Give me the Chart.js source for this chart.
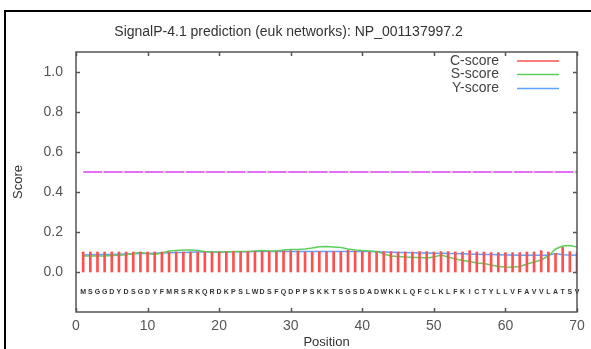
<!DOCTYPE html>
<html>
<head>
<meta charset="utf-8">
<script src="https://cdn.jsdelivr.net/npm/chart.js@4"></script>
<style>
  html, body { margin: 0; padding: 0; background: #fff; }
  #wrap { position: relative; width: 591px; height: 349px; overflow: hidden; }
  #frame { position: absolute; left: 4px; top: 10px; width: 700px; height: 500px; border-left: 2px solid #000; border-top: 2px solid #000; }
  canvas { position: absolute; left: 0; top: 0; }
</style>
</head>
<body>
<div id="wrap">
  <div id="frame"></div>
  <canvas id="chart" width="591" height="349"></canvas>
</div>
<script>
// sequence (one residue per position)
const residues = "MSGGDYDSGDYFMRSRKQRDKPSLWDSFQDPPSKKTSGSDADWKKLQFCLKLFKICTYLLVFAVVLATSV".split("");
const positions = residues.map((r, i) => i + 1);

const cScore = [
  0.100, 0.100, 0.100, 0.100, 0.100, 0.100, 0.100, 0.100, 0.100, 0.100,
  0.100, 0.100, 0.100, 0.100, 0.100, 0.100, 0.100, 0.100, 0.100, 0.100,
  0.102, 0.102, 0.102, 0.102, 0.102, 0.102, 0.102, 0.102, 0.105, 0.107,
  0.105, 0.100, 0.100, 0.102, 0.102, 0.102, 0.102, 0.108, 0.105, 0.102,
  0.100, 0.100, 0.102, 0.102, 0.100, 0.100, 0.100, 0.102, 0.102, 0.100,
  0.102, 0.102, 0.100, 0.100, 0.107, 0.100, 0.100, 0.097, 0.097, 0.097,
  0.097, 0.097, 0.100, 0.100, 0.107, 0.100, 0.093, 0.123, 0.102, 0.100
];
const sScore = [
  0.080, 0.080, 0.080, 0.080, 0.082, 0.084, 0.086, 0.092, 0.097, 0.093,
  0.088, 0.095, 0.105, 0.108, 0.110, 0.110, 0.108, 0.103, 0.100, 0.100,
  0.100, 0.102, 0.102, 0.103, 0.105, 0.107, 0.105, 0.105, 0.110, 0.112,
  0.113, 0.115, 0.120, 0.126, 0.127, 0.125, 0.122, 0.115, 0.110, 0.107,
  0.105, 0.103, 0.090, 0.080, 0.077, 0.075, 0.073, 0.073, 0.070, 0.075,
  0.085, 0.075, 0.065, 0.058, 0.052, 0.045, 0.042, 0.035, 0.028, 0.025,
  0.024, 0.028, 0.040, 0.050, 0.060, 0.080, 0.115, 0.130, 0.132, 0.125
];
const yScore = [
  0.085, 0.086, 0.087, 0.087, 0.088, 0.089, 0.090, 0.091, 0.092, 0.093,
  0.094, 0.095, 0.096, 0.097, 0.098, 0.099, 0.100, 0.100, 0.100, 0.100,
  0.100, 0.101, 0.101, 0.101, 0.102, 0.102, 0.102, 0.102, 0.103, 0.103,
  0.103, 0.103, 0.103, 0.103, 0.103, 0.103, 0.103, 0.102, 0.102, 0.102,
  0.102, 0.101, 0.100, 0.099, 0.098, 0.097, 0.096, 0.095, 0.095, 0.094,
  0.094, 0.093, 0.092, 0.091, 0.090, 0.089, 0.088, 0.087, 0.086, 0.085,
  0.085, 0.084, 0.084, 0.084, 0.084, 0.084, 0.092, 0.086, 0.085, 0.084
];
const cutoff = 0.5;
const xTicks = [0, 10, 20, 30, 40, 50, 60, 70];
const yTicks = [0.0, 0.2, 0.4, 0.6, 0.8, 1.0];
const seriesNames = ["C-score", "S-score", "Y-score"];
const seriesColors = ["#ff5050", "#5ccf5c", "#5aa5ff"];

const pts = arr => positions.map((p, i) => ({ x: p, y: arr[i] }));

// gnuplot style frame with inward ticks on all sides
const framePlugin = {
  id: "frame",
  afterDraw(chart) {
    const { ctx, chartArea: a, scales: { x, y } } = chart;
    ctx.save();
    ctx.strokeStyle = "#555";
    ctx.lineWidth = 1.5;
    ctx.strokeRect(a.left, a.top, a.right - a.left, a.bottom - a.top);
    ctx.beginPath();
    xTicks.forEach(v => {
      const px = Math.round(x.getPixelForValue(v)) + 0.5;
      ctx.moveTo(px, a.bottom); ctx.lineTo(px, a.bottom - 4);
      ctx.moveTo(px, a.top); ctx.lineTo(px, a.top + 4);
    });
    yTicks.forEach(v => {
      const py = Math.round(y.getPixelForValue(v)) + 0.5;
      ctx.moveTo(a.left, py); ctx.lineTo(a.left + 4, py);
      ctx.moveTo(a.right, py); ctx.lineTo(a.right - 4, py);
    });
    ctx.stroke();
    ctx.restore();
  }
};

// residue letters under the bars
const residuePlugin = {
  id: "residues",
  afterDatasetsDraw(chart) {
    const { ctx, scales: { x, y } } = chart;
    ctx.save();
    ctx.font = "bold 7px 'Liberation Sans'";
    ctx.fillStyle = "#333";
    ctx.textAlign = "center";
    ctx.textBaseline = "middle";
    residues.forEach((r, i) => {
      ctx.fillText(r, x.getPixelForValue(positions[i]), y.getPixelForValue(-0.1));
    });
    ctx.restore();
  }
};

// legend: text then line sample, top right
const legendPlugin = {
  id: "gpLegend",
  afterDraw(chart) {
    const { ctx } = chart;
    ctx.save();
    ctx.font = "14px 'Liberation Sans'";
    ctx.fillStyle = "#444";
    ctx.textAlign = "right";
    ctx.textBaseline = "middle";
    const rows = [61, 74.5, 88.5];
    seriesNames.forEach((n, i) => {
      ctx.fillText(n, 499, rows[i]);
      ctx.strokeStyle = seriesColors[i];
      ctx.lineWidth = 1.5;
      ctx.beginPath();
      ctx.moveTo(517, rows[i]); ctx.lineTo(559, rows[i]);
      ctx.stroke();
    });
    ctx.restore();
  }
};

new Chart(document.getElementById("chart"), {
  data: {
    datasets: [
      {
        type: "line", label: "cutoff",
        data: [{ x: positions[0], y: cutoff }, { x: positions[positions.length - 1], y: cutoff }],
        borderColor: "#e070f0", borderWidth: 2, borderDash: [19, 1.5], pointRadius: 0
      },
      {
        type: "bar", label: seriesNames[0], data: pts(cScore),
        backgroundColor: seriesColors[0], barThickness: 2, grouped: false
      },
      {
        type: "line", label: seriesNames[1], data: pts(sScore),
        borderColor: seriesColors[1], borderWidth: 1.5, pointRadius: 0, tension: 0
      },
      {
        type: "line", label: seriesNames[2], data: pts(yScore),
        borderColor: seriesColors[2], borderWidth: 1.5, pointRadius: 0, tension: 0
      }
    ]
  },
  options: {
    responsive: false,
    animation: false,
    devicePixelRatio: 1,
    layout: { padding: { left: 0, right: 14, top: 0, bottom: 0 } },
    plugins: {
      legend: { display: false },
      tooltip: { enabled: false },
      title: {
        display: true,
        text: "SignalP-4.1 prediction (euk networks): NP_001137997.2",
        color: "#333",
        font: { family: "'Liberation Sans'", size: 14, weight: "normal" },
        padding: { top: 24, bottom: 11.2 }
      }
    },
    scales: {
      x: {
        type: "linear", min: 0, max: 70, offset: false,
        grid: { display: false, drawTicks: false, offset: false },
        border: { display: false },
        afterBuildTicks: s => { s.ticks = xTicks.map(v => ({ value: v })); },
        afterFit: s => { s.height = 37; },
        ticks: {
          padding: 6, color: "#555", maxRotation: 0,
          font: { family: "'Liberation Sans'", size: 14 },
          callback: v => String(v)
        },
        title: {
          display: true, text: "Position", color: "#333",
          font: { family: "'Liberation Sans'", size: 13, lineHeight: 1 },
          padding: { top: 0, bottom: 0 }
        }
      },
      y: {
        type: "linear", min: -0.2, max: 1.1,
        grid: { display: false, drawTicks: false },
        border: { display: false },
        afterBuildTicks: s => { s.ticks = yTicks.map(v => ({ value: v })); },
        afterFit: s => { s.width = 76; },
        ticks: {
          padding: 13, color: "#555",
          font: { family: "'Liberation Sans'", size: 14 },
          callback: v => v.toFixed(1)
        },
        title: {
          display: true, text: "Score", color: "#333",
          font: { family: "'Liberation Sans'", size: 13, lineHeight: 1 },
          padding: { top: 11.5, bottom: 0 }
        }
      }
    }
  },
  plugins: [framePlugin, residuePlugin, legendPlugin]
});
</script>
</body>
</html>
